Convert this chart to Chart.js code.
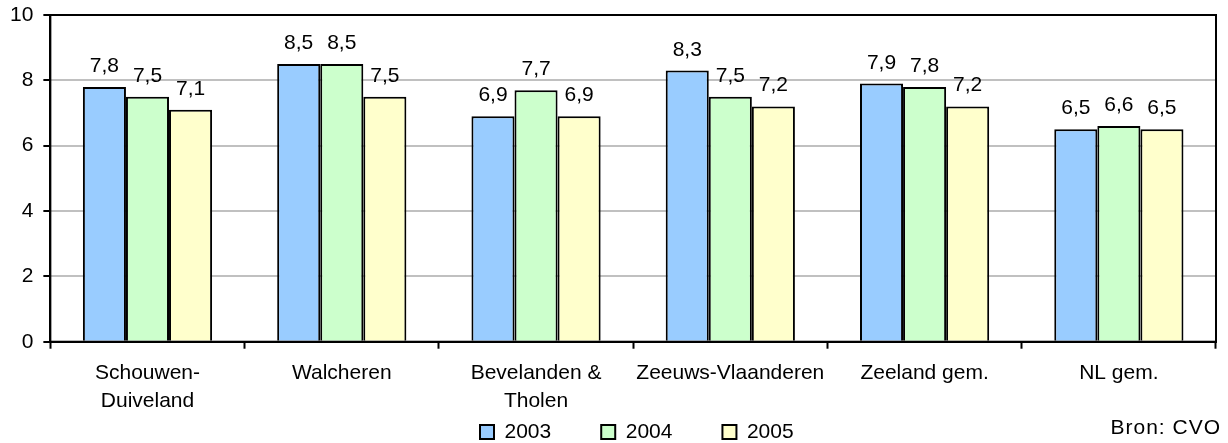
<!DOCTYPE html>
<html>
<head>
<meta charset="utf-8">
<script src="https://cdn.jsdelivr.net/npm/chart.js@4/dist/chart.umd.min.js"></script>
<style>
html,body{margin:0;padding:0;background:#fff;}
#wrap{width:1228px;height:443px;position:relative;}
</style>
</head>
<body>
<div id="wrap"><canvas id="c" width="1228" height="443"></canvas></div>
<script>
const categories = [["Schouwen-","Duiveland"],"Walcheren",["Bevelanden &","Tholen"],"Zeeuws-Vlaanderen","Zeeland gem.","NL gem."];
const seriesNames = ["2003","2004","2005"];
const values2003 = [7.8, 8.5, 6.9, 8.3, 7.9, 6.5];
const values2004 = [7.5, 8.5, 7.7, 7.5, 7.8, 6.6];
const values2005 = [7.1, 7.5, 6.9, 7.2, 7.2, 6.5];
const yTicks = [0, 2, 4, 6, 8, 10];
const sourceNote = "Bron: CVO";

const FONT = "'Liberation Sans', Arial, sans-serif";
const FS = 21;
Chart.defaults.font.family = FONT;
Chart.defaults.font.size = FS;
Chart.defaults.color = '#000';

const valueLabels = {
  id: 'valueLabels',
  afterDatasetsDraw(chart) {
    const ctx = chart.ctx;
    ctx.save();
    ctx.font = FS + "px " + FONT;
    ctx.fillStyle = '#000';
    ctx.textAlign = 'center';
    ctx.textBaseline = 'alphabetic';
    chart.data.datasets.forEach((ds, i) => {
      const meta = chart.getDatasetMeta(i);
      meta.data.forEach((el, j) => {
        const v = ds.data[j];
        ctx.fillText(v.toFixed(1).replace('.', ','), el.x, el.y - 15);
      });
    });
    ctx.restore();
  }
};

const LEGEND_H = 18;
const legendPlace = {
  id: 'legendPlace',
  afterInit(chart) {
    const lg = chart.legend;
    if (!lg) return;
    const f = lg.fit;
    lg.fit = function() { f.call(this); this.height = LEGEND_H; };
  },
  afterLayout(chart) {
    const lg = chart.legend;
    if (!lg || !lg.lineWidths) return;
    const pad = lg.options.labels.padding;
    const W = lg.lineWidths[0];
    const start = (lg.left + pad + lg.right - W) / 2;
    const dx = 480 - start;
    lg.left += dx; lg.right += dx;
    const itemH = Math.max(FS, 14);
    lg.top = 432 - itemH / 2 - pad;
    lg.bottom = 443;
    lg.width = lg.right - lg.left;
    lg.height = lg.bottom - lg.top;
  }
};

const frame = {
  id: 'frame',
  afterDraw(chart) {
    const a = chart.chartArea, ctx = chart.ctx;
    ctx.save();
    ctx.strokeStyle = '#000';
    ctx.lineWidth = 2;
    ctx.strokeRect(a.left, a.top, a.right - a.left, a.bottom - a.top);
    ctx.font = FS + "px " + FONT;
    ctx.letterSpacing = '1px';
    ctx.fillStyle = '#000';
    ctx.textAlign = 'right';
    ctx.textBaseline = 'middle';
    ctx.fillText(sourceNote, 1221, 428);
    ctx.restore();
  }
};

new Chart(document.getElementById('c'), {
  type: 'bar',
  data: {
    labels: categories,
    datasets: [
      {label: seriesNames[0], data: values2003, backgroundColor: '#99CCFF', borderColor: '#000', borderWidth: 2},
      {label: seriesNames[1], data: values2004, backgroundColor: '#CCFFCC', borderColor: '#000', borderWidth: 2},
      {label: seriesNames[2], data: values2005, backgroundColor: '#FFFFCC', borderColor: '#000', borderWidth: 2}
    ]
  },
  options: {
    responsive: false,
    animation: false,
    layout: {padding: {left: 0, right: 12, top: 15, bottom: 0}},
    datasets: {bar: {barPercentage: 1, categoryPercentage: 0.665}},
    plugins: {
      legend: {
        position: 'bottom',
        labels: {boxWidth: 14, boxHeight: 14, padding: 50, font: {size: FS}, color: '#000'}
      },
      tooltip: {enabled: false}
    },
    scales: {
      x: {
        offset: true,
        grid: {offset: true, drawOnChartArea: false, drawTicks: true, tickLength: 7, tickColor: '#000', tickWidth: 2},
        border: {color: '#000', width: 2},
        ticks: {padding: 10, font: {size: FS, lineHeight: 1.34}, color: '#000', maxRotation: 0, autoSkip: false}
      },
      y: {
        min: 0, max: 10,
        afterBuildTicks(axis) { axis.ticks = yTicks.map(v => ({value: v})); },
        afterFit(scale) { scale.paddingTop = 0; scale.paddingBottom = 0; },
        grid: {color: '#C0C0C0', lineWidth: 2, tickLength: 7, tickColor: '#000', tickWidth: 2},
        border: {color: '#000', width: 2},
        ticks: {padding: 10, font: {size: FS}, color: '#000'}
      }
    }
  },
  plugins: [valueLabels, legendPlace, frame]
});
</script>
</body>
</html>
